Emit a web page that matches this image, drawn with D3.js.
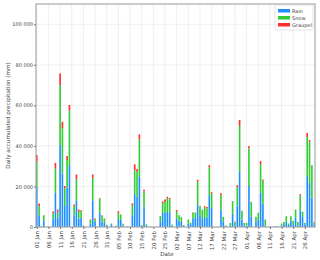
<!DOCTYPE html>
<html>
<head>
<meta charset="utf-8">
<script src="https://cdn.jsdelivr.net/npm/d3@7"></script>
<style>
  body { margin: 0; background: #fff; }
  text { font-family: "DejaVu Sans", sans-serif; fill: #444; }
</style>
</head>
<body>
<svg id="chart"></svg>
<script>
// daily values, 01 Jan .. 30 Apr (mm)
const rain = [19800, 5800, 300, 3000, 0, 200, 0, 3700, 16800, 4700,
  40400, 26400, 10300, 19500, 30500, 0, 5800, 13200, 4200, 4500,
  400, 0, 0, 1700, 13200, 2500, 0, 7000, 2700, 2000,
  600, 0, 1400, 0, 300, 4000, 3500, 800, 0, 300,
  0, 5800, 16600, 14900, 24700, 400, 9800, 500, 0, 200,
  0, 0, 0, 2500, 6900, 7000, 7400, 7500, 600, 0,
  4200, 3200, 2500, 500, 0, 1800, 1400, 4000, 4800, 10800,
  5800, 3900, 5000, 4700, 15700, 9500, 0, 0, 0, 8500,
  2500, 400, 0, 700, 6500, 800, 10500, 27200, 3700, 800,
  800, 20200, 5000, 0, 2500, 3800, 16800, 11600, 800, 0,
  200, 0, 300, 300, 0, 800, 1000, 2600, 1000, 3000,
  1000, 4700, 800, 8300, 5300, 1200, 25100, 21800, 14500, 1000];
const snow = [12400, 4600, 200, 2800, 0, 100, 0, 3000, 12100, 2800,
  29600, 22300, 8700, 13500, 26900, 0, 4500, 10400, 3300, 3400,
  300, 0, 0, 1800, 11100, 1200, 0, 7100, 3100, 2000,
  500, 0, 300, 0, 300, 3000, 2500, 700, 0, 0,
  0, 5000, 11500, 12300, 18500, 500, 7800, 800, 0, 0,
  0, 0, 0, 2900, 4900, 5400, 6900, 6200, 600, 0,
  3300, 2600, 2400, 400, 0, 1900, 700, 3000, 2200, 11600,
  4400, 4600, 4800, 4500, 13700, 7000, 0, 0, 0, 7400,
  2500, 400, 0, 1300, 6200, 1500, 9000, 22600, 4200, 1200,
  1200, 18600, 7200, 0, 2500, 3200, 14100, 11200, 2900, 0,
  0, 0, 0, 0, 0, 900, 1500, 2700, 700, 2300,
  2000, 3900, 1700, 7400, 2200, 800, 19300, 20300, 16000, 1500];
const graupel = [3300, 1200, 0, 0, 0, 0, 0, 950, 2700, 1100,
  5800, 3200, 1200, 2000, 2800, 0, 800, 2300, 1100, 400,
  0, 0, 0, 200, 1600, 500, 0, 200, 0, 200,
  0, 0, 0, 0, 0, 800, 200, 100, 0, 0,
  0, 800, 2800, 1400, 2500, 0, 800, 0, 0, 0,
  0, 0, 0, 0, 800, 1200, 600, 600, 0, 0,
  800, 0, 0, 0, 0, 0, 0, 200, 100, 900,
  200, 0, 500, 700, 1100, 700, 0, 0, 0, 800,
  0, 0, 0, 0, 100, 300, 1100, 3000, 100, 0,
  0, 1100, 200, 0, 0, 0, 1600, 600, 0, 0,
  0, 0, 0, 0, 0, 0, 0, 0, 0, 0,
  0, 0, 0, 500, 0, 0, 2000, 800, 0, 0];
const seriesNames = ["Rain", "Snow", "Graupel"];
const seriesColors = ["#1f8fff", "#34cc34", "#ff2f2f"];
const yTicks = [0, 20000, 40000, 60000, 80000, 100000];

const startDate = new Date(2021, 0, 1);
const dates = d3.timeDay.range(startDate, new Date(2021, 4, 1));
const xTicks = d3.timeDay.range(startDate, new Date(2021, 4, 1), 5);

// init setting
const svg = d3.select("#chart").attr("width", 320).attr("height", 260);
const margin = { top: 4, right: 5, bottom: 33, left: 36 };
const width = 320 - margin.left - margin.right;
const height = 260 - margin.top - margin.bottom;
const g = svg.append("g").attr("transform", `translate(${margin.left},${margin.top})`);

const x = d3.scaleTime()
    .domain([d3.timeHour.offset(startDate, -8), d3.timeHour.offset(dates[dates.length - 1], 8)])
    .range([0, width]);
const y = d3.scaleLinear().domain([0, 110000]).range([height, 0]);
const barW = 0.7 * (x(dates[1]) - x(dates[0]));

// grid
g.selectAll(".vgrid").data(xTicks).enter().append("line")
    .attr("x1", d => x(d)).attr("x2", d => x(d))
    .attr("y1", 0).attr("y2", height)
    .attr("stroke", "#ececec").attr("stroke-width", 0.8);
g.selectAll(".hgrid").data(yTicks).enter().append("line")
    .attr("x1", 0).attr("x2", width)
    .attr("y1", d => y(d)).attr("y2", d => y(d))
    .attr("stroke", "#ececec").attr("stroke-width", 0.8);

// stacked bars
const table = dates.map((d, i) => ({ date: d, Rain: rain[i], Snow: snow[i], Graupel: graupel[i] }));
const stacked = d3.stack().keys(seriesNames)(table);
g.selectAll(".layer").data(stacked).enter().append("g")
    .attr("fill", (d, i) => seriesColors[i])
    .selectAll("rect").data(d => d).enter().append("rect")
    .attr("x", d => x(d.data.date) - barW / 2)
    .attr("width", barW)
    .attr("y", d => y(d[1]))
    .attr("height", d => y(d[0]) - y(d[1]));

// frame
g.append("rect").attr("width", width).attr("height", height)
    .attr("fill", "none").attr("stroke", "#a8a8a8").attr("stroke-width", 1.2);

// y axis
const fmt = d3.formatLocale({ decimal: ".", thousands: " ", grouping: [3], currency: ["", ""] }).format(",d");
const yAxis = g.append("g").call(d3.axisLeft(y).tickValues(yTicks).tickSize(2).tickFormat(fmt));
yAxis.select(".domain").remove();
yAxis.selectAll("line").attr("stroke", "#777");
yAxis.selectAll("text").style("font-size", "5px").attr("fill", "#444").attr("x", -3);

// x axis
const xAxis = g.append("g").attr("transform", `translate(0,${height})`)
    .call(d3.axisBottom(x).tickValues(xTicks).tickSize(2).tickFormat(d3.timeFormat("%d %b")));
xAxis.select(".domain").remove();
xAxis.selectAll("line").attr("stroke", "#777");
xAxis.selectAll("text")
    .style("font-size", "5.5px").attr("fill", "#444")
    .attr("text-anchor", "end")
    .attr("x", 0).attr("y", 0).attr("dy", "0.35em")
    .attr("transform", "translate(0,4) rotate(-90)");

// axis titles
svg.append("text")
    .attr("transform", `translate(8,${margin.top + height / 2}) rotate(-90)`)
    .attr("text-anchor", "middle").attr("dy", "0.35em")
    .style("font-size", "5.6px")
    .text("Daily accumulated precipitation (mm)");
svg.append("text")
    .attr("x", 167).attr("y", 256)
    .attr("text-anchor", "middle")
    .style("font-size", "5.6px")
    .text("Date");

// legend
const legend = svg.append("g").attr("transform", "translate(275,5)");
legend.append("rect").attr("width", 38).attr("height", 25).attr("rx", 1.5)
    .attr("fill", "#fff").attr("stroke", "#d0d0d0").attr("stroke-width", 0.6);
seriesNames.forEach((name, i) => {
    legend.append("rect").attr("x", 3).attr("y", 4 + i * 7).attr("width", 12).attr("height", 3.5)
        .attr("fill", seriesColors[i]);
    legend.append("text").attr("x", 17).attr("y", 5.75 + i * 7).attr("dy", "0.35em")
        .style("font-size", "5px").text(name);
});
</script>
</body>
</html>
